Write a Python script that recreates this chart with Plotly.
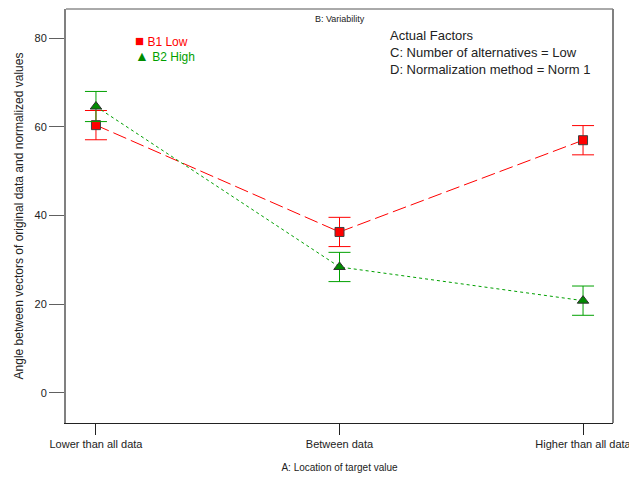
import plotly.graph_objects as go

categories = ["Lower than all data", "Between data", "Higher than all data"]
b1_low = [60.4, 36.3, 57.0]
b1_err = [3.3, 3.3, 3.3]
b2_high = [64.6, 28.4, 20.8]
b2_err = [3.4, 3.3, 3.3]
y_ticks = [0, 20, 40, 60, 80]

x_idx = list(range(len(categories)))
FONT = "Liberation Sans, Arial, sans-serif"

fig = go.Figure()

fig.add_trace(go.Scatter(
    x=x_idx, y=b1_low, mode="lines+markers", showlegend=False,
    line=dict(color="#ff0000", width=1, dash="14px,5px"),
    marker=dict(symbol="square", size=9, color="#ff0000", line=dict(color="#404040", width=1)),
    error_y=dict(type="data", array=b1_err, visible=True, color="#ff0000", thickness=1, width=11),
))
fig.add_trace(go.Scatter(
    x=x_idx, y=b2_high, mode="lines+markers", showlegend=False,
    line=dict(color="#00a000", width=1, dash="3px,3px"),
    marker=dict(symbol="triangle-up", size=10, color="#008c00", line=dict(color="#303030", width=1)),
    error_y=dict(type="data", array=b2_err, visible=True, color="#00a000", thickness=1, width=11),
))

fig.update_layout(
    width=629, height=479,
    margin=dict(l=66, r=16, t=9, b=56),
    paper_bgcolor="white", plot_bgcolor="white",
    font=dict(family=FONT, size=11, color="#222222"),
    showlegend=False,
    xaxis=dict(
        tickmode="array", tickvals=x_idx, ticktext=categories,
        range=[-0.123, 2.123], showgrid=False, zeroline=False, automargin=False,
        showline=True, linecolor="#222222", linewidth=1, mirror=False,
        ticks="outside", ticklen=11, tickcolor="#222222", ticklabeloverflow="allow",
        tickfont=dict(size=11, color="#222222"),
        title=dict(text="A: Location of target value", font=dict(size=10), standoff=14),
    ),
    yaxis=dict(
        tickmode="array", tickvals=y_ticks,
        range=[-6.8, 86.6], showgrid=False, zeroline=False, automargin=False,
        showline=True, linecolor="#808080", linewidth=2, mirror=False,
        ticks="outside", ticklen=15, tickcolor="#606060",
        tickfont=dict(size=11, color="#222222"),
        title=dict(text="Angle between vectors of original data and normalized values",
                   font=dict(size=12), standoff=8),
    ),
    shapes=[
        dict(type="line", xref="paper", yref="paper", x0=0, x1=1, y0=1, y1=1,
             line=dict(color="#555555", width=1)),
        dict(type="line", xref="paper", yref="paper", x0=1, x1=1, y0=0, y1=1,
             line=dict(color="#808080", width=2)),
    ],
    annotations=[
        dict(text="B: Variability", xref="paper", yref="paper", x=0.5, y=0.993,
             xanchor="center", yanchor="top", showarrow=False, font=dict(size=9)),
        dict(text="Actual Factors<br>C: Number of alternatives = Low<br>D: Normalization method = Norm 1",
             xref="paper", yref="paper", x=0.588, y=0.958, xanchor="left", yanchor="top",
             align="left", showarrow=False, font=dict(size=13, color="#222222")),
        dict(text="<span style='color:#ff0000;font-size:15px'>■</span> <span style='color:#ff0000'>B1 Low</span>",
             xref="paper", yref="paper", x=0.123, y=0.923, xanchor="left", yanchor="middle",
             showarrow=False, font=dict(size=12)),
        dict(text="<span style='color:#008c00;font-size:14px'>▲</span> <span style='color:#00a000'>B2 High</span>",
             xref="paper", yref="paper", x=0.123, y=0.886, xanchor="left", yanchor="middle",
             showarrow=False, font=dict(size=12)),
    ],
)

fig.write_html("out.html", config={"displayModeBar": False},
               post_script="document.body.style.margin='0';")
